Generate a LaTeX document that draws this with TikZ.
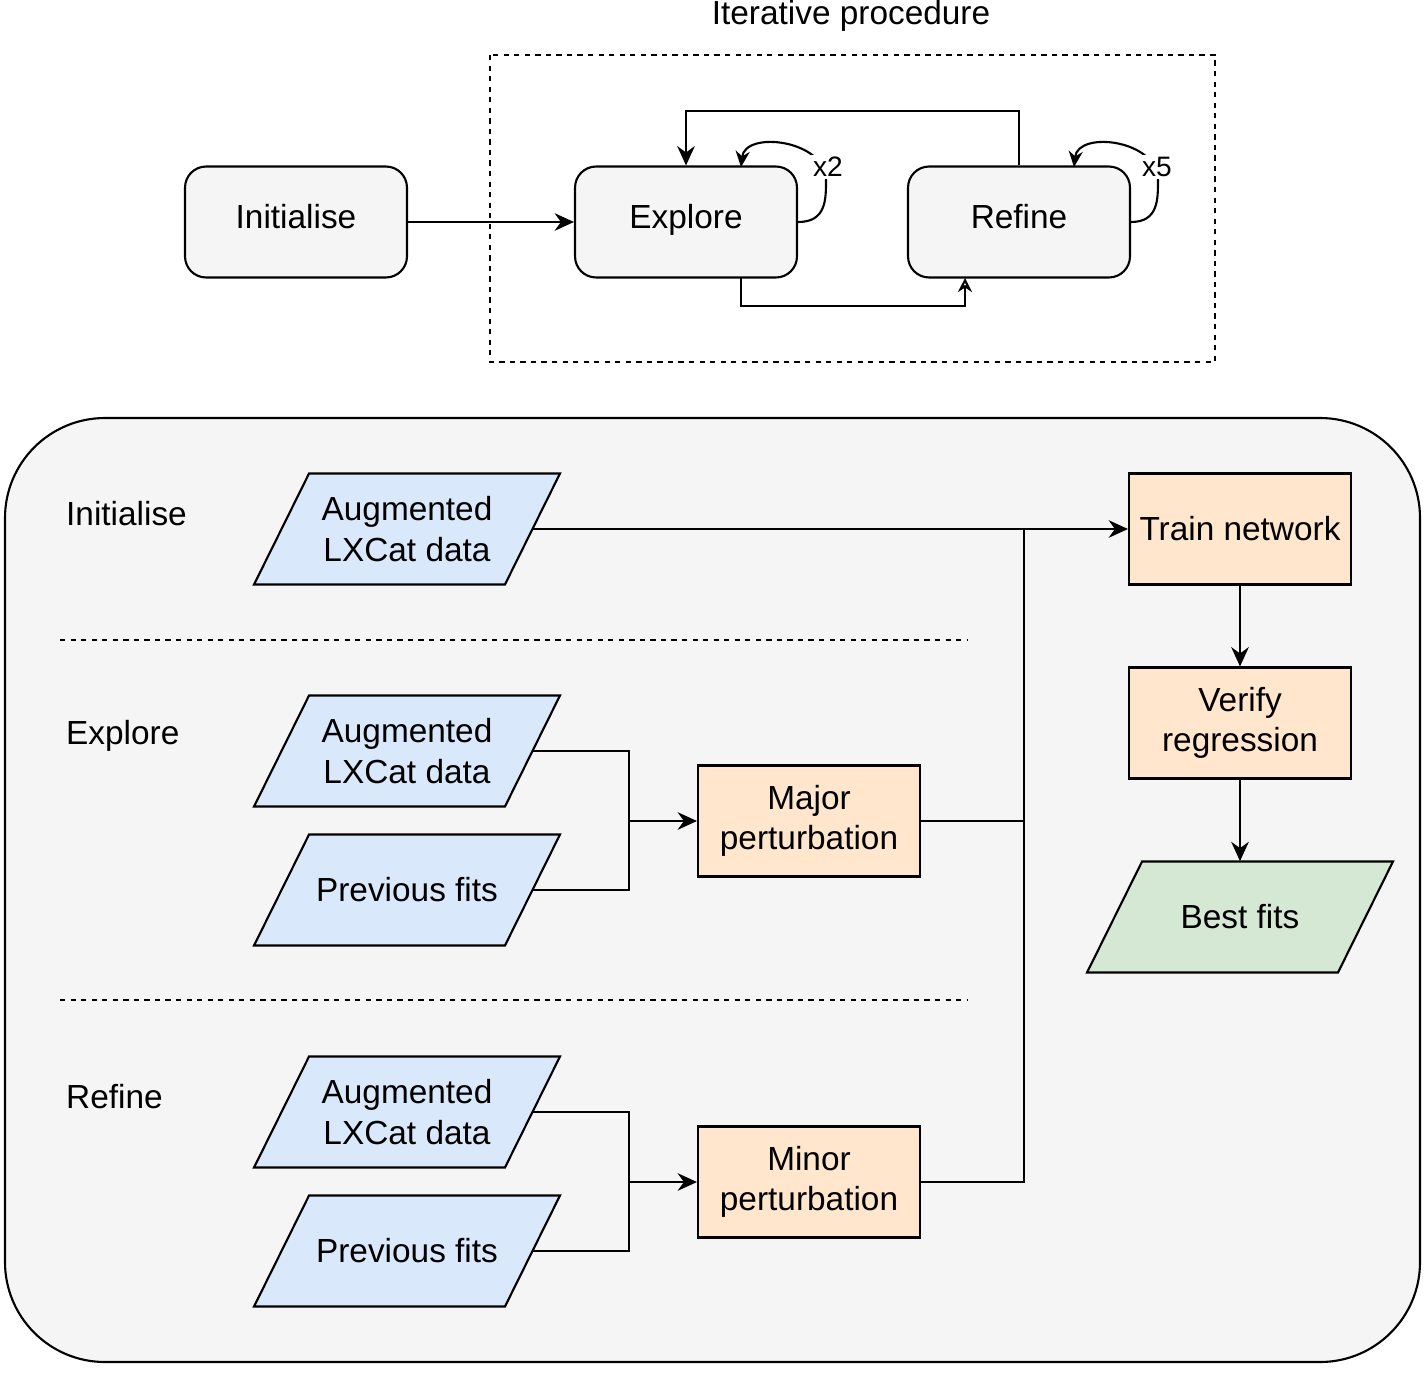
\documentclass[tikz,border=0pt]{standalone}
\usepackage{fontspec}
\setmainfont{Liberation Sans}
\usetikzlibrary{arrows.meta}
\definecolor{boxgrey}{HTML}{F5F5F5}
\definecolor{datablue}{HTML}{DAE8FC}
\definecolor{steporange}{HTML}{FFE6CC}
\definecolor{outgreen}{HTML}{D5E8D4}
\tikzset{
  txt/.style={font=\fontsize{19}{23}\selectfont},
  stage/.style={txt,draw,line width=1.2pt,rounded corners=12pt,fill=boxgrey,minimum width=4.44cm,minimum height=2.22cm,text height=2ex,text depth=0.5ex},
  proc/.style={txt,draw,line width=1.2pt,fill=steporange,minimum width=4.44cm,minimum height=2.22cm,align=center},
  data/.style={txt,align=center,minimum width=5.02cm,minimum height=2.22cm,inner sep=0pt},
  link/.style={line width=1.2pt,-{Stealth[length=11pt,width=10pt]}},
  small link/.style={line width=1.2pt,-{Stealth[length=9pt,width=8pt]}},
}
% Parallelogramm mit Namen
\newcommand{\datanode}[4]{%
  \coordinate (#1c) at (#2);
  \draw[line width=1.2pt,fill=#4] ([shift={(-3.06cm,-1.11cm)}]#1c) -- ([shift={(1.96cm,-1.11cm)}]#1c) -- ([shift={(3.06cm,1.11cm)}]#1c) -- ([shift={(-1.96cm,1.11cm)}]#1c) -- cycle;
  \node[data] (#1) at (#1c) {#3};}
\begin{document}
\begin{tikzpicture}[x=0.02cm,y=-0.02cm]
  \useasboundingbox (0,0) rectangle (1425,1376);
  % Oberer Teil
  \draw[dashed,line width=1.2pt] (490,55) rectangle (1215,362);
  \node[txt,anchor=north] (itlbl) at (851,-6) {Iterative procedure};
  \node[stage] (init) at (296,222) {Initialise};
  \node[stage] (expl) at (686,222) {Explore};
  \node[stage] (refi) at (1019,222) {Refine};
  \draw[link] (init) -- (expl);
  \draw[link] (refi.north) |- (686,111) -- (expl.north);
  \draw[line width=1.2pt,-{Stealth[length=8pt,width=8pt,open,fill=white]}] (741,278) |- (965,306) -- (965,278);
  \draw[small link] (expl.east) .. controls (826,222) and (826,200) .. (826,180) .. controls (826,140) and (745,130) .. (741,167);
  \node[txt,fill=white,inner sep=1pt,font=\fontsize{16}{19}\selectfont] (lx2) at (828,167) {x2};
  \draw[small link] (refi.east) .. controls (1158,222) and (1158,200) .. (1158,180) .. controls (1158,140) and (1078,130) .. (1074,167);
  \node[txt,fill=white,inner sep=1pt,font=\fontsize{16}{19}\selectfont] (lx5) at (1157,167) {x5};
  % Unterer Teil
  \draw[line width=1.2pt,fill=boxgrey,rounded corners=2cm] (5,418) rectangle (1420,1362);
  \draw[dashed,line width=1.2pt] (60,640) -- (968,640);
  \draw[dashed,line width=1.2pt] (60,1000) -- (968,1000);
  \node[txt,anchor=west] (sinit) at (60,514) {Initialise};
  \node[txt,anchor=west] (sexpl) at (60,736) {Explore};
  \node[txt,anchor=west] (srefi) at (60,1097) {Refine};
  \datanode{aug1}{407,529}{Augmented\\LXCat data}{datablue}
  \datanode{aug2}{407,751}{Augmented\\LXCat data}{datablue}
  \datanode{prev2}{407,890}{Previous fits}{datablue}
  \datanode{aug3}{407,1112}{Augmented\\LXCat data}{datablue}
  \datanode{prev3}{407,1251}{Previous fits}{datablue}
  \node[proc] (major) at (809,821) {Major\\perturbation};
  \node[proc] (minor) at (809,1182) {Minor\\perturbation};
  \node[proc] (train) at (1240,529) {Train network};
  \node[proc] (verif) at (1240,723) {Verify\\regression};
  \datanode{best}{1240,917}{Best fits}{outgreen}
  \coordinate (jn) at (1024,529);
  \draw[link] (aug1.east) -- (train.west);
  \draw[line width=1.2pt] (major.east) -| (jn);
  \draw[line width=1.2pt] (minor.east) -| (jn);
  \draw[line width=1.2pt] (aug2.east) -| (629,821);
  \draw[line width=1.2pt] (prev2.east) -| (629,821);
  \draw[link] (629,821) -- (major.west);
  \draw[line width=1.2pt] (aug3.east) -| (629,1182);
  \draw[line width=1.2pt] (prev3.east) -| (629,1182);
  \draw[link] (629,1182) -- (minor.west);
  \draw[link] (train) -- (verif);
  \draw[link] (verif) -- (best);
\end{tikzpicture}
\end{document}
